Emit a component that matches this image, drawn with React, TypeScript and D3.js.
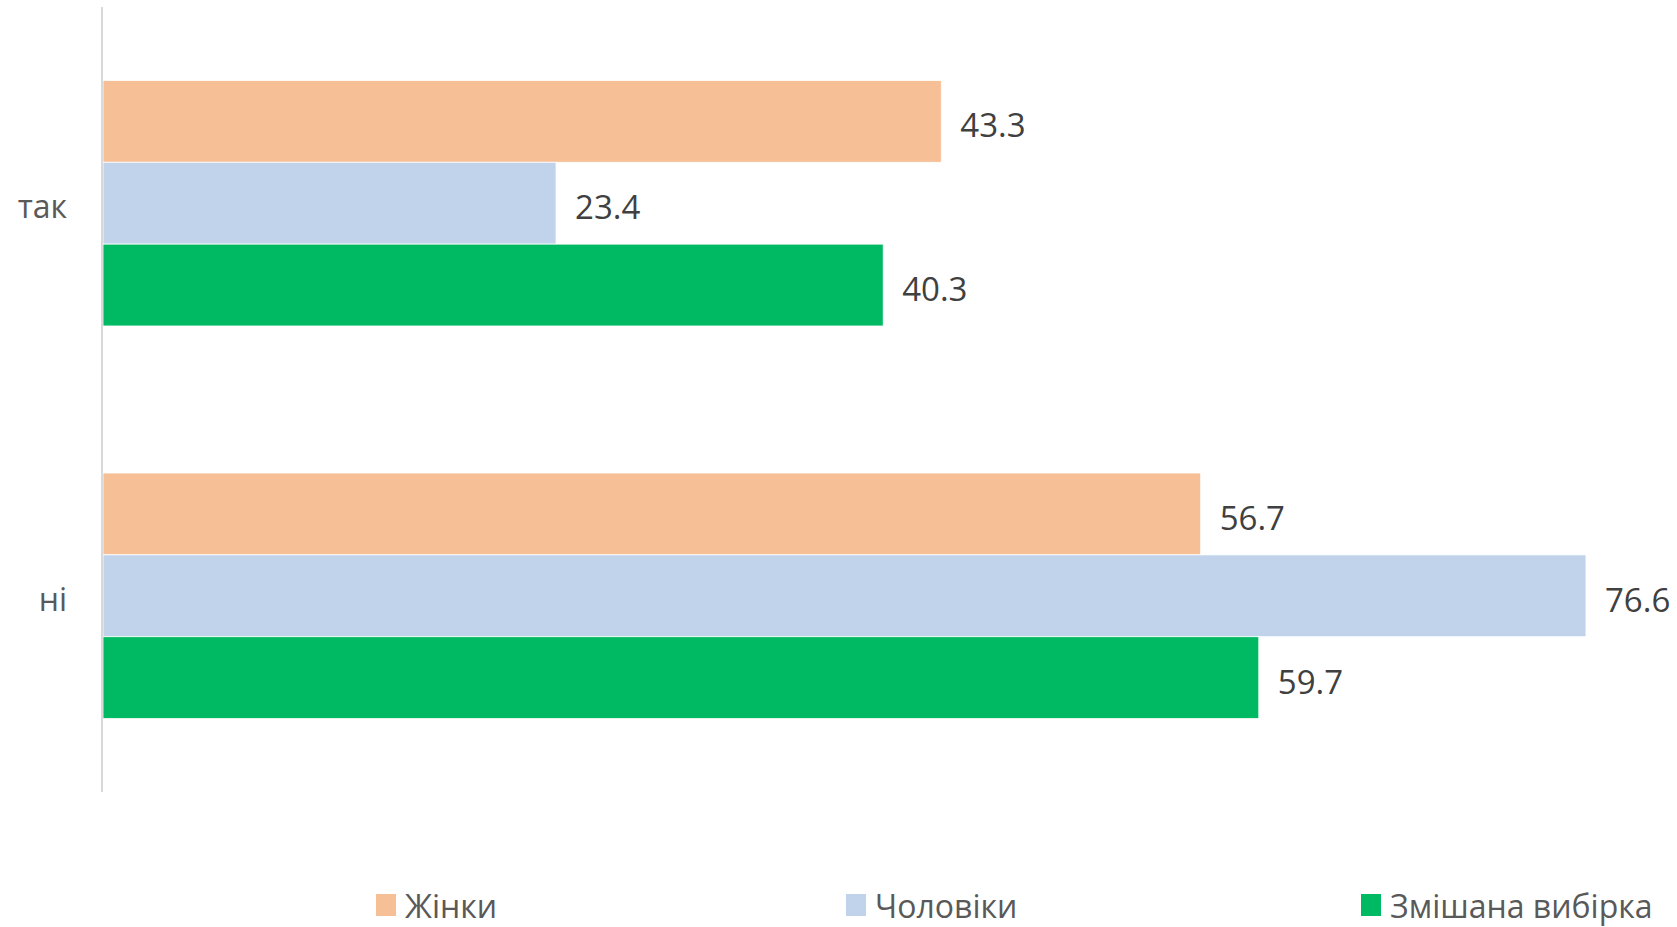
import React from "react";
import * as d3 from "d3";

const categories = ["так", "ні"];
const seriesNames = ["Жінки", "Чоловіки", "Змішана вибірка"];
const zhinky = [43.3, 56.7];
const cholovinky = [23.4, 76.6];
const zmishana = [40.3, 59.7];
const seriesValues = [zhinky, cholovinky, zmishana];
const colors = ["#F7BF96", "#C1D3EB", "#00B963"];

const W = 1677;
const H = 927;
const FONT = "'Open Sans', 'Noto Sans', sans-serif";

export default function App() {
  const x = d3.scaleLinear().domain([0, 80]).range([103, 103 + 19.36 * 80]);
  const y0 = d3
    .scaleBand<string>()
    .domain(categories)
    .range([7, 792])
    .paddingInner(0.3745)
    .paddingOuter(0.187);
  const y1 = d3
    .scaleBand<string>()
    .domain(seriesNames)
    .range([0, y0.bandwidth()]);

  const legendX = [376, 846, 1361];

  return (
    <svg
      width={W}
      height={H}
      style={{ position: "fixed", left: 0, top: 0, background: "#fff" }}
      fontFamily={FONT}
    >
      <rect x={0} y={0} width={W} height={H} fill="#fff" />
      {categories.map((c, ci) => (
        <g key={c}>
          {seriesNames.map((s, si) => {
            const v = seriesValues[si][ci];
            const yy = (y0(c) ?? 0) + (y1(s) ?? 0);
            const h = y1.bandwidth();
            return (
              <g key={s}>
                <rect
                  x={x(0)}
                  y={yy}
                  width={x(v) - x(0)}
                  height={h}
                  fill={colors[si]}
                  stroke="#fff"
                  strokeWidth={0.8}
                />
                <text
                  x={x(v) + 19}
                  y={yy + h / 2 + 16}
                  fontSize={33}
                  fill="#404040"
                >
                  {v.toFixed(1)}
                </text>
              </g>
            );
          })}
          <text
            x={67}
            y={(y0(c) ?? 0) + y0.bandwidth() / 2 + 15}
            fontSize={32}
            fill="#595959"
            textAnchor="end"
          >
            {c}
          </text>
        </g>
      ))}
      <line x1={102} x2={102} y1={7} y2={792} stroke="#D9D9D9" strokeWidth={2} />
      {seriesNames.map((s, si) => (
        <g key={s}>
          <rect x={legendX[si]} y={894} width={20} height={22} fill={colors[si]} />
          <text x={legendX[si] + 29} y={918} fontSize={32} fill="#595959">
            {s}
          </text>
        </g>
      ))}
    </svg>
  );
}
